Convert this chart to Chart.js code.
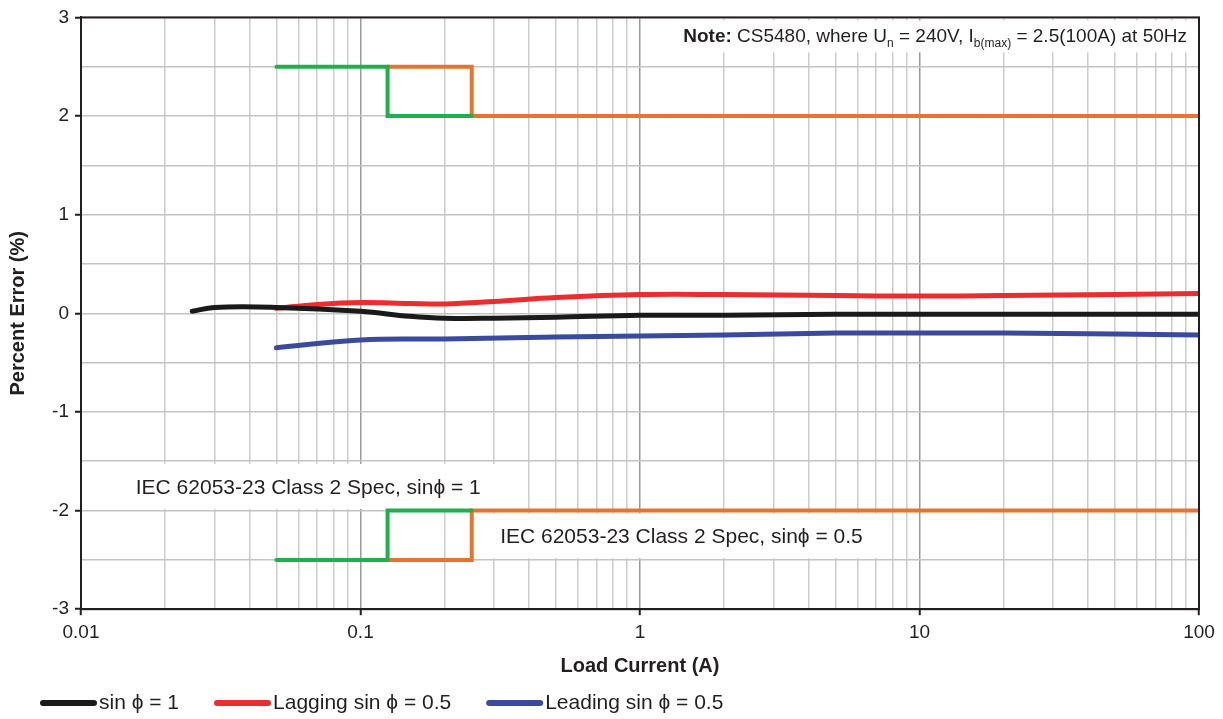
<!DOCTYPE html>
<html>
<head>
<meta charset="utf-8">
<script src="https://cdn.jsdelivr.net/npm/chart.js@4"></script>
<style>
    html, body { margin: 0; padding: 0; background: #ffffff; }
    #wrap { width: 1223px; height: 719px; }
</style>
</head>
<body>
<div id="wrap"><canvas id="errorChart"></canvas></div>
<script>
// Meetdata (load current in A, error in %)
const unityCurrent = [0.025, 0.03, 0.05, 0.1, 0.15, 0.2, 0.3, 0.5, 1, 2, 5, 10, 20, 50, 100];
const unityError = [0.02, 0.06, 0.06, 0.02, -0.03, -0.05, -0.05, -0.04, -0.02, -0.02, -0.01, -0.01, -0.01, -0.01, -0.01];

const laggingCurrent = [0.05, 0.07, 0.1, 0.15, 0.2, 0.3, 0.5, 1, 2, 5, 10, 20, 50, 100];
const laggingError = [0.05, 0.09, 0.11, 0.1, 0.095, 0.12, 0.16, 0.19, 0.19, 0.18, 0.175, 0.18, 0.19, 0.2];

const leadingCurrent = [0.05, 0.1, 0.2, 0.5, 1, 2, 5, 10, 20, 50, 100];
const leadingError = [-0.35, -0.27, -0.26, -0.24, -0.23, -0.22, -0.2, -0.2, -0.2, -0.21, -0.22];

// Spec limits (step lines)
const specUnityCurrent = [0.05, 0.125, 0.125, 0.25];
const specUnityUpper = [2.5, 2.5, 2, 2];
const specUnityLower = [-2.5, -2.5, -2, -2];

const specHalfCurrent = [0.125, 0.25, 0.25, 100];
const specHalfUpper = [2.5, 2.5, 2, 2];
const specHalfLower = [-2.5, -2.5, -2, -2];

// Labels
const seriesLabels = ["sin \u03d5 = 1", "Lagging sin \u03d5 = 0.5", "Leading sin \u03d5 = 0.5"];
const xDecades = [0.01, 0.1, 1, 10, 100];
const xDecadeLabels = ["0.01", "0.1", "1", "10", "100"];
const xMinorSteps = [2, 3, 4, 5, 6, 7, 8, 9];
const yTicks = [-3, -2, -1, 0, 1, 2, 3];

const specTexts = [
    { text: "IEC 62053-23 Class 2 Spec, sin\u03d5 = 1", x: 0.0157, y: -1.77 },
    { text: "IEC 62053-23 Class 2 Spec, sin\u03d5 = 0.5", x: 0.316, y: -2.27 }
];

const FONT = "'Liberation Sans', Arial, sans-serif";
const TEXT_COLOR = "#231f20";

function toPoints(xs, ys) {
    return xs.map((x, i) => ({ x: x, y: ys[i] }));
}

function isDecade(v) {
    let l = Math.log10(v);
    return Math.abs(l - Math.round(l)) < 1e-9;
}

// x-gridlines: decades + 2..9 in every decade
let xGridValues = [];
xDecades.forEach((d, i) => {
    xGridValues.push(d);
    if (i < xDecades.length - 1) {
        xMinorSteps.forEach(m => xGridValues.push(+(d * m).toPrecision(6)));
    }
});

function lineSet(label, xs, ys, color, width, tension) {
    return {
        label: label,
        data: toPoints(xs, ys),
        borderColor: color,
        backgroundColor: color,
        borderWidth: width,
        tension: tension,
        borderCapStyle: "round",
        borderJoinStyle: "miter",
        pointRadius: 0
    };
}

// Witte labels, notitie, kader och legend
const overlayPlugin = {
    id: "overlay",
    beforeDatasetsDraw(chart) {
        const ctx = chart.ctx;
        const xs = chart.scales.x;
        const ys = chart.scales.y;

        ctx.save();
        ctx.font = "21px " + FONT;
        ctx.textBaseline = "middle";
        specTexts.forEach(t => {
            let px = xs.getPixelForValue(t.x);
            let py = ys.getPixelForValue(t.y);
            let w = ctx.measureText(t.text).width;
            ctx.fillStyle = "#ffffff";
            ctx.fillRect(px - 16, py - 24, w + 32, 45);
            ctx.fillStyle = TEXT_COLOR;
            ctx.fillText(t.text, px, py);
        });

        // Note box, top right
        let right = xs.right - 12;
        let top = ys.top;
        let parts = [
            { s: "Note:", f: "bold 19px " + FONT, dy: 0 },
            { s: " CS5480, where U", f: "19px " + FONT, dy: 0 },
            { s: "n", f: "12px " + FONT, dy: 5 },
            { s: " = 240V, I", f: "19px " + FONT, dy: 0 },
            { s: "b(max)", f: "12px " + FONT, dy: 5 },
            { s: " = 2.5(100A) at 50Hz", f: "19px " + FONT, dy: 0 }
        ];
        let total = 0;
        parts.forEach(p => { ctx.font = p.f; p.w = ctx.measureText(p.s).width; total += p.w; });
        ctx.fillStyle = "#ffffff";
        ctx.fillRect(right - total - 14, top + 3, total + 24, 32);
        let cx = right - total;
        ctx.fillStyle = TEXT_COLOR;
        ctx.textBaseline = "alphabetic";
        parts.forEach(p => {
            ctx.font = p.f;
            ctx.fillText(p.s, cx, top + 25 + p.dy);
            cx += p.w;
        });
        ctx.restore();
    },
    afterDraw(chart) {
        const a = chart.chartArea;
        const ctx = chart.ctx;
        ctx.save();
        ctx.strokeStyle = TEXT_COLOR;
        ctx.lineWidth = 2;
        ctx.strokeRect(a.left, a.top, a.right - a.left, a.bottom - a.top);

        // legend, bottom left
        let x = 40;
        let y = chart.height - 16;
        ctx.font = "21px " + FONT;
        ctx.textBaseline = "middle";
        chart.data.datasets.slice(0, 3).forEach(ds => {
            ctx.strokeStyle = ds.borderColor;
            ctx.lineWidth = 6;
            ctx.lineCap = "round";
            ctx.beginPath();
            ctx.moveTo(x + 3, y);
            ctx.lineTo(x + 54, y);
            ctx.stroke();
            ctx.fillStyle = TEXT_COLOR;
            ctx.fillText(ds.label, x + 59, y);
            x += 59 + ctx.measureText(ds.label).width + 35;
        });
        ctx.restore();
    }
};

Chart.defaults.font.family = FONT;
Chart.defaults.color = TEXT_COLOR;

new Chart(document.getElementById("errorChart"), {
    type: "line",
    data: {
        datasets: [
            lineSet(seriesLabels[0], unityCurrent, unityError, "#1a1a1a", 5, 0.4),
            lineSet(seriesLabels[1], laggingCurrent, laggingError, "#ee2b2e", 5, 0.4),
            lineSet(seriesLabels[2], leadingCurrent, leadingError, "#3a4a9e", 5, 0.4),
            lineSet("spec1 upper", specUnityCurrent, specUnityUpper, "#1fb04c", 4, 0),
            lineSet("spec1 lower", specUnityCurrent, specUnityLower, "#1fb04c", 4, 0),
            lineSet("spec05 upper", specHalfCurrent, specHalfUpper, "#e8732e", 4, 0),
            lineSet("spec05 lower", specHalfCurrent, specHalfLower, "#e8732e", 4, 0)
        ]
    },
    options: {
        responsive: true,
        maintainAspectRatio: false,
        animation: false,
        layout: {
            padding: { top: 15, right: 24, left: 6, bottom: 41 }
        },
        scales: {
            x: {
                type: "logarithmic",
                min: xDecades[0],
                max: xDecades[xDecades.length - 1],
                afterBuildTicks: (scale) => {
                    scale.ticks = xGridValues.map(v => ({ value: v, major: isDecade(v) }));
                },
                ticks: {
                    autoSkip: false,
                    maxRotation: 0,
                    padding: 6,
                    font: { size: 19 },
                    callback: (value) => {
                        let i = xDecades.findIndex(d => Math.abs(d - value) < d * 1e-6);
                        return i >= 0 ? xDecadeLabels[i] : "";
                    }
                },
                grid: {
                    color: (c) => (c.tick && isDecade(c.tick.value)) ? "#9a9a9a" : "#cccccc",
                    lineWidth: 1.5,
                    tickLength: 6,
                    tickColor: (c) => (c.tick && isDecade(c.tick.value)) ? TEXT_COLOR : "rgba(0,0,0,0)",
                    tickWidth: 2
                },
                border: { color: TEXT_COLOR, width: 2 },
                title: {
                    display: true,
                    text: "Load Current (A)",
                    font: { size: 20, weight: "bold" },
                    padding: { top: 4, bottom: 0 }
                }
            },
            y: {
                min: yTicks[0],
                max: yTicks[yTicks.length - 1],
                afterFit: (scale) => { scale.width = 75; },
                ticks: {
                    stepSize: 0.5,
                    padding: 6,
                    font: { size: 19 },
                    callback: (value) => yTicks.includes(value) ? String(value) : ""
                },
                grid: {
                    color: "#c4c4c4",
                    lineWidth: 1.5,
                    tickLength: 6,
                    tickColor: (c) => (c.tick && yTicks.includes(c.tick.value)) ? TEXT_COLOR : "rgba(0,0,0,0)",
                    tickWidth: 2
                },
                border: { color: TEXT_COLOR, width: 2 },
                title: {
                    display: true,
                    text: "Percent Error (%)",
                    font: { size: 20, weight: "bold" },
                    padding: { top: 0, bottom: 0 }
                }
            }
        },
        plugins: {
            legend: { display: false },
            tooltip: { enabled: false }
        }
    },
    plugins: [overlayPlugin]
});
</script>
</body>
</html>
